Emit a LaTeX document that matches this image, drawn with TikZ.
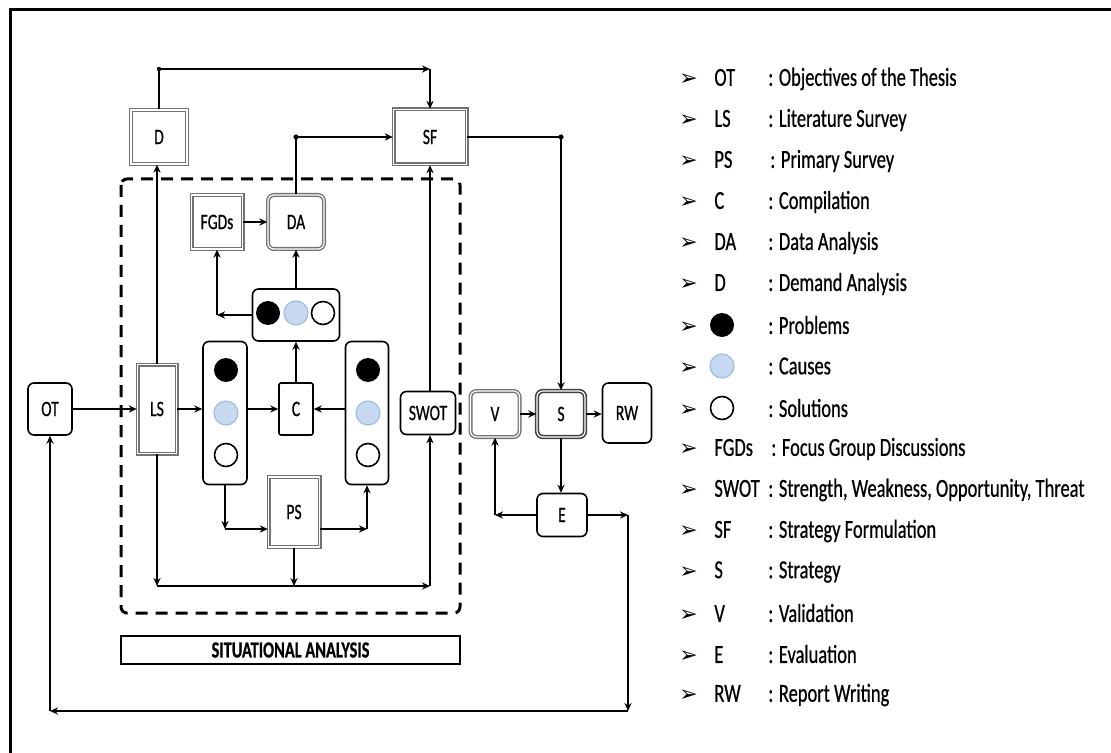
\documentclass[tikz,border=0pt]{standalone}
\usepackage{fontspec}
\setmainfont{Carlito}[FakeStretch=0.71, FakeBold=0.6]
\newfontfamily\dingfont{DejaVu Sans}
\usetikzlibrary{arrows.meta}
\definecolor{causefill}{RGB}{198,217,241}
\definecolor{causeedge}{RGB}{160,188,228}
\newcommand{\legrow}[2]{\makebox[17.5pt][l]{\dingfont\fontsize{11}{12}\selectfont ➢}\makebox[27pt][l]{#1}#2}

\begin{document}
\begin{tikzpicture}[
    x=0.5pt, y=-0.5pt,
    box/.style={draw=black, line width=0.8pt, rounded corners=3pt, fill=white, inner sep=0pt, font=\fontsize{11}{13}\selectfont},
    dbox/.style={draw=black!55, double=white, double distance=0.6pt, line width=0.7pt, fill=white, inner sep=0pt, font=\fontsize{11}{13}\selectfont},
    prob/.style={circle, fill=black, minimum size=12pt, inner sep=0pt},
    cause/.style={circle, draw=causeedge, fill=causefill, line width=0.6pt, minimum size=12pt, inner sep=0pt},
    sol/.style={circle, draw=black, fill=white, line width=0.8pt, minimum size=11.5pt, inner sep=0pt},
    leg/.style={anchor=west, inner sep=0pt, font=\fontsize{13}{15}\selectfont},
    arr/.style={-{Stealth[length=4pt, width=3.6pt]}, line width=0.9pt}
]
\useasboundingbox (0,0) rectangle (1111,753);
\draw[line width=1.5pt] (1111,10) -- (10,10) -- (10,753);

% situational analysis frame
\draw[line width=1.5pt, dash pattern=on 6pt off 4pt, rounded corners=3pt] (121,179) rectangle (460,613);
\node[draw, line width=0.9pt, minimum width=169.5pt, minimum height=14pt, inner sep=0pt,
      font=\bfseries\fontsize{11.5}{13}\selectfont] (sa) at (290.5,650) {SITUATIONAL ANALYSIS};

% nodes
\node[box, minimum width=22pt, minimum height=26pt] (OT) at (50,409) {OT};
\node[dbox, minimum width=19.5pt, minimum height=44.5pt] (LS) at (157,409) {LS};
\node[dbox, minimum width=28pt, minimum height=27pt] (D) at (159,137) {D};
\node[dbox, minimum width=36.5pt, minimum height=27.5pt] (SF) at (430,137) {SF};
\node[dbox, minimum width=25.5pt, minimum height=27pt] (FGDs) at (217,222) {FGDs};
\node[dbox, rounded corners=3pt, minimum width=28pt, minimum height=27pt] (DA) at (296,222) {DA};
\node[box, minimum width=43.5pt, minimum height=26pt] (hrow) at (296,315) {};
\node[box, minimum width=22pt, minimum height=71.5pt] (lcol) at (225,413) {};
\node[box, minimum width=21.5pt, minimum height=71.5pt] (rcol) at (367,413) {};
\node[box, rounded corners=1pt, minimum width=17pt, minimum height=26pt] (C) at (296,409) {C};
\node[dbox, minimum width=25.5pt, minimum height=35pt] (PS) at (294,512) {PS};
\node[box, minimum width=27.5pt, minimum height=21.5pt] (SWOT) at (428,413) {SWOT};
\node[dbox, rounded corners=3pt, minimum width=24.5pt, minimum height=23pt] (V) at (495,414) {V};
\node[dbox, draw=black!75, line width=0.8pt, rounded corners=3pt, minimum width=24pt, minimum height=23pt] (S) at (561,414) {S};
\node[box, minimum width=24.5pt, minimum height=30pt] (RW) at (627,413) {RW};
\node[box, minimum width=25pt, minimum height=21.5pt] (E) at (562,515) {E};

% problems, causes, solutions
\node[prob] (hp) at (268,313) {};
\node[cause] (hc) at (296,313) {};
\node[sol] (hs) at (323,313) {};
\node[prob] (lp) at (226,370) {};
\node[cause] (lc) at (226,413) {};
\node[sol] (ls) at (226,455) {};
\node[prob] (rp) at (368,370) {};
\node[cause] (rc) at (368,413) {};
\node[sol] (rs) at (368,455) {};

% helper levels
\coordinate (topy) at (0,69);
\coordinate (psy) at (0,529);
\coordinate (busy) at (0,586);
\coordinate (fbx) at (628,0);
\coordinate (fby) at (0,711);

% connectors
\draw[arr] (OT.east) -- (LS.west |- OT.east);
\draw[arr] (LS.east) -- (LS.east -| lcol.west);
\draw[arr] (lcol.east |- C) -- (C.west);
\draw[arr] (rcol.west |- C) -- (C.east);
\draw[arr] (C.north) -- (C.north |- hrow.south);
\draw[arr] (hrow.north -| DA) -- (DA.south);
\draw[arr] (hrow.west) -- (FGDs.south |- hrow.west);
\draw[arr] (FGDs.south |- hrow.west) -- (FGDs.south);
\draw[arr] (FGDs.east) -- (DA.west);
\draw[arr] (DA.north) |- (SF.west);
\fill (DA.north |- SF.west) circle (1.3pt);
\draw[arr] (LS.north) -- (LS.north |- D.south);
\draw[arr] (D.north) |- (SF.north |- topy);
\fill (D.north |- topy) circle (1.1pt);
\draw[arr] (SF.north |- topy) -- (SF.north);
\draw[arr] (SF.south |- SWOT.north) -- (SF.south);
\draw[arr] (SF.east) -| (S.north);
\fill (SF.east -| S.north) circle (1.3pt);

\draw[arr] (lcol.south) -- (lcol.south |- psy);
\draw[arr] (lcol.south |- psy) -- (PS.west |- psy);
\draw[arr] (PS.east |- psy) -- (rcol.south |- psy);
\draw[arr] (rcol.south |- psy) -- (rcol.south);
\draw[arr] (LS.south) -- (LS.south |- busy);
\draw[arr] (PS.south) -- (PS.south |- busy);
\draw[arr] (LS.south |- busy) -- (SF.south |- busy);
\draw[arr] (SF.south |- busy) -- (SF.south |- SWOT.south);

\draw[arr] (V.east) -- (S.west);
\draw[arr] (S.east) -- (RW.west |- S.east);
\draw[arr] (S.south) -- (S.south |- E.north);
\draw[arr] (E.west) -- (V.south |- E.west);
\draw[arr] (V.south |- E.west) -- (V.south);
\draw[arr] (E.east) -- (fbx |- E.east);
\draw[arr] (fbx |- E.east) -- (fbx |- fby);
\draw[arr] (fbx |- fby) -- (OT.south |- fby);
\draw[arr] (OT.south |- fby) -- (OT.south);

% legend
\node[leg] (kOT) at (679,79) {\legrow{OT}{: Objectives of the Thesis}};
\node[leg] (kLS) at (679,120) {\legrow{LS}{: Literature Survey}};
\node[leg] (kPS) at (679,161) {\legrow{PS}{\hspace{1pt}: Primary Survey}};
\node[leg] (kC) at (679,202) {\legrow{C}{: Compilation}};
\node[leg] (kDA) at (679,243) {\legrow{DA}{: Data Analysis}};
\node[leg] (kD) at (679,284) {\legrow{D}{: Demand Analysis}};
\node[leg] (kprob) at (679,325) {\legrow{}{: Problems}};
\node[leg] (kcause) at (679,366) {\legrow{}{: Causes}};
\node[leg] (ksol) at (679,408) {\legrow{}{: Solutions}};
\node[leg] (kFGDs) at (679,449) {\legrow{FGDs}{\hspace{1.5pt}: Focus Group Discussions}};
\node[leg] (kSWOT) at (679,490) {\legrow{SWOT}{: Strength, Weakness, Opportunity, Threat}};
\node[leg] (kSF) at (679,531) {\legrow{SF}{: Strategy Formulation}};
\node[leg] (kS) at (679,572) {\legrow{S}{: Strategy}};
\node[leg] (kV) at (679,613) {\legrow{V}{: Validation}};
\node[leg] (kE) at (679,654) {\legrow{E}{: Evaluation}};
\node[leg] (kRW) at (679,695) {\legrow{RW}{: Report Writing}};
\node[prob] (kp) at (722,325) {};
\node[cause] (kc) at (722,366) {};
\node[sol] (ks) at (722,408) {};
\end{tikzpicture}
\end{document}
